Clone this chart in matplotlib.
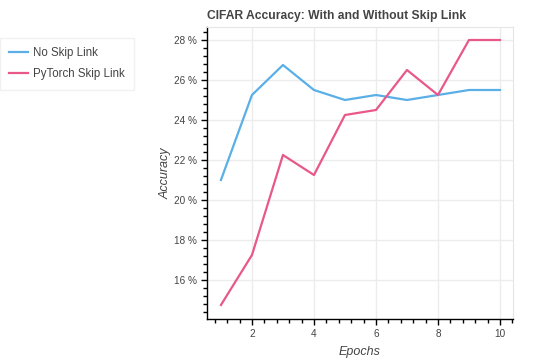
import matplotlib
matplotlib.use("Agg")
import matplotlib.pyplot as plt
from matplotlib.ticker import MultipleLocator, FuncFormatter

epochs = [1, 2, 3, 4, 5, 6, 7, 8, 9, 10]
no_skip = [21.0, 25.25, 26.75, 25.5, 25.0, 25.25, 25.0, 25.25, 25.5, 25.5]
pytorch_skip = [14.75, 17.25, 22.25, 21.25, 24.25, 24.5, 26.5, 25.25, 28.0, 28.0]
series_names = ["No Skip Link", "PyTorch Skip Link"]
colors = ["#5aafe6", "#e8588a"]

plt.rcParams['font.family'] = ['Liberation Sans', 'DejaVu Sans']

fig = plt.figure(figsize=(5.39, 3.59), dpi=100)
ax = fig.add_axes([207/539, 1-319/359, (513-207)/539, (319-27)/359])

l1, = ax.plot(epochs, no_skip, color=colors[0], lw=1.6, label=series_names[0])
l2, = ax.plot(epochs, pytorch_skip, color=colors[1], lw=1.6, label=series_names[1])

ax.set_xlim(0.55, 10.42)
ax.set_ylim(14.05, 28.65)

ax.xaxis.set_major_locator(MultipleLocator(2))
ax.xaxis.set_minor_locator(MultipleLocator(0.4))
ax.yaxis.set_major_locator(MultipleLocator(2))
ax.yaxis.set_minor_locator(MultipleLocator(0.4))
ax.yaxis.set_major_formatter(FuncFormatter(lambda v, p: f"{int(round(v))} %"))
ax.xaxis.set_major_formatter(FuncFormatter(lambda v, p: f"{int(round(v))}"))

ax.grid(True, which='major', color='#ececec', lw=1)
ax.set_axisbelow(True)
for s in ['top', 'right']:
    ax.spines[s].set_color('#e5e5e5')
for s in ['left', 'bottom']:
    ax.spines[s].set_color('black')
    ax.spines[s].set_linewidth(1)

ax.tick_params(which='major', direction='out', length=4.3, width=1, color='black',
               labelsize=7.2, labelcolor='#444444', pad=2.9)
ax.tick_params(which='minor', direction='out', length=2.9, width=1, color='black')

ax.set_xlabel("Epochs", fontsize=9, style='italic', color='#444444', labelpad=5)
ax.set_ylabel("Accuracy", fontsize=9, style='italic', color='#444444', labelpad=1.5)
ax.set_title("CIFAR Accuracy: With and Without Skip Link", fontsize=8.7, fontweight='bold',
             color='#444444', loc='left', pad=6)

leg = fig.legend(handles=[l1, l2], loc='upper left', bbox_to_anchor=(0.0, 1-38/359),
                 frameon=True, fontsize=8.3, handlelength=1.65, handletextpad=0.38,
                 borderpad=0.8, labelspacing=0.8, fancybox=False,
                 borderaxespad=0)
leg.get_frame().set_edgecolor('#eeeeee')
leg.get_frame().set_linewidth(1)
for t in leg.get_texts():
    t.set_color('#444444')

fig.savefig("out.png", dpi=100)
